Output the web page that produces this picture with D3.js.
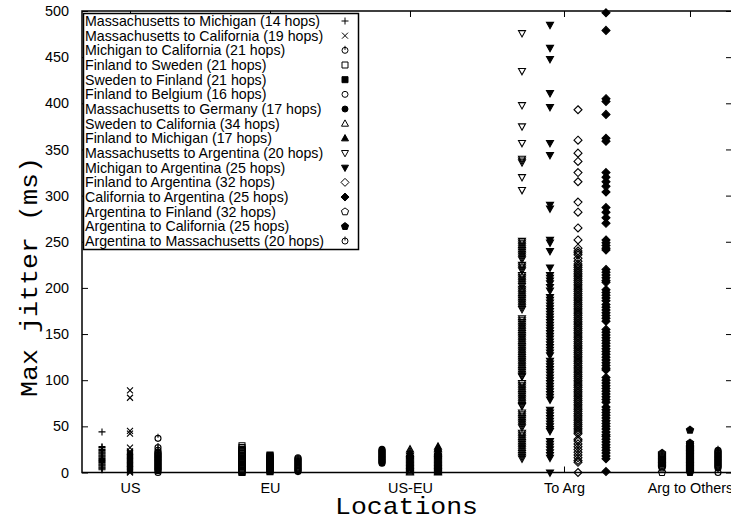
<!DOCTYPE html>
<html><head><meta charset="utf-8">
<script src="https://cdn.jsdelivr.net/npm/d3@7"></script>
<style>body{margin:0;background:#fff}svg{display:block}</style>
</head><body><svg id="c" width="731" height="523"></svg>
<script>
const seriesNames = [
  "Massachusetts to Michigan (14 hops)",
  "Massachusetts to California (19 hops)",
  "Michigan to California (21 hops)",
  "Finland to Sweden (21 hops)",
  "Sweden to Finland (21 hops)",
  "Finland to Belgium (16 hops)",
  "Massachusetts to Germany (17 hops)",
  "Sweden to California (34 hops)",
  "Finland to Michigan (17 hops)",
  "Massachusetts to Argentina (20 hops)",
  "Michigan to Argentina (25 hops)",
  "Finland to Argentina (32 hops)",
  "California to Argentina (25 hops)",
  "Argentina to Finland (32 hops)",
  "Argentina to California (25 hops)",
  "Argentina to Massachusetts (20 hops)"
];
const seriesSlots = [1,2,3,6,7,8,11,12,13,16,17,18,19,21,22,23];
const seriesMarkers = ["plus","cross","circleBar","squareOpen","squareFilled","circleOpen","circleFilled","triOpen","triFilled","invTriOpen","invTriFilled","diamondOpen","diamondFilled","pentOpen","pentFilled","circleBar"];
const categoryLabels = ["US","EU","US-EU","To Arg","Arg to Others"];
const categorySlots = [2,7,12,17.5,22];
const yTicks = [0,50,100,150,200,250,300,350,400,450,500];

const massMich = [44,28,27,25,24,23,22,21,20,19,18,17,16,15,14,13,12,11,10,9,8,7,6,5,4,3];
const massCal = [89,81,45,42,27,23,22,21,20,19,18,17,16,15,14,13,12,11,10,9,8,7,6,5,4,3,2,1,0];
const michCal = [37,27,24,22,21,20,19,18,17,16,15,14,13,12,11,10,9,8,7,6,5,4,3,2,0];
const finSwe = [29,27,25,24,23,22,21,20,19,18,17,16,15,14,13,12,11,10,9,8,7,6,5,4,3,2,1,0];
const sweFin = [19,18,17,16,15,14,13,12,11,10,9,8,7,6,5,4,3,2,1];
const finBel = [16,15,14,13,12,11,10,9,8,7,6,5,4,3,2,1];
const massGer = [25,24,23,22,21,20,19,18,17,16,15,14,13,12,11,10];
const sweCal = [25,23,21,20,19,18,17,16,15,14,13,12,11,10,9,8,7,6,5,4,3,2,1,0];
const finMich = [28,26,25,23,22,21,20,19,18,17,16,15,14,13,12,11,10,9,8,7,6,5,4,3,2,1,0];
const massArg = [476,435,398,375,357,340,338,336,320,306,251,249,247,245,243,241,239,237,235,233,231,225,223,221,219,214,212,210,208,206,204,202,199,197,195,193,191,189,187,185,183,181,179,177,167,165,163,161,159,157,155,153,151,149,147,145,143,141,139,137,135,133,131,129,127,125,123,121,119,117,115,113,111,109,107,105,104,97,95,93,91,89,87,85,83,81,79,77,75,73,72,65,63,61,59,57,55,53,51,49,43,41,39,37,35,33,31,29,27,25,23,21,19,17,15];
const michArg = [485,460,448,411,396,357,344,290,286,252,249,240,222,214,211,208,205,201,197,190,187,184,181,178,175,172,169,166,163,160,157,154,151,148,145,142,139,136,133,130,127,121,118,115,112,109,106,103,100,97,94,91,88,85,82,79,68,65,62,59,56,53,50,47,45,34,31,28,25,22,19,16,0];
const finArg = [393,360,346,337,325,315,293,282,265,252,243,240,238,236,232,229,226,224,222,220,218,216,214,212,210,208,206,204,202,200,198,196,194,192,190,188,186,184,182,180,178,176,174,172,170,168,166,164,162,160,158,156,154,152,150,148,146,144,142,140,138,136,134,132,130,128,126,124,122,120,118,116,114,112,110,108,106,104,102,100,98,96,94,92,90,88,86,84,82,80,78,76,74,72,70,68,66,64,62,60,58,56,54,52,50,48,46,44,42,36,34,31,28,25,22,19,16,13,11,0];
const calArg = [498,479,405,402,388,362,359,325,320,315,310,304,287,282,276,270,252,249,246,243,241,220,217,214,211,208,206,198,195,192,189,186,182,179,176,173,170,167,164,155,152,149,146,143,140,137,134,131,128,125,122,119,116,113,111,103,100,97,94,91,88,85,82,79,76,71,68,65,62,59,56,53,50,47,44,41,39,36,33,30,27,24,21,18,15,1];
const argFin = [21,20,19,18,17,16,15,14,13,12,11,10,9,8,7,6,5,0];
const argCal = [46,32,30,28,27,26,25,24,23,22,21,20,19,18,17,16,15,14,13,12,11,10,9,8,7,6,5,4,3,2,1,0];
const argMass = [24,23,22,21,20,19,18,17,16,15,14,13,12,11,10,9,8,7,6,5,0];

const seriesValues = [massMich,massCal,michCal,finSwe,sweFin,finBel,massGer,sweCal,finMich,massArg,michArg,finArg,calArg,argFin,argCal,argMass];

const svg = d3.select("#c");
const L = 82, R = 732, T = 11, B = 472.5;
const x = d3.scaleLinear().domain([0.286, 23.5]).range([L, R]);
const y = d3.scaleLinear().domain([0, 500]).range([B, T]);

function pent(){
  const pts = d3.range(5).map(i => { const a = -Math.PI/2 + i*2*Math.PI/5; return [3.8*Math.cos(a), 3.8*Math.sin(a)]; });
  return "M" + pts.map(p => p.join(",")).join("L") + "Z";
}
const shapes = {
  plus: {d:"M-3.5,0H3.5M0,-3.5V3.5", fill:false},
  cross: {d:"M-3,-3L3,3M-3,3L3,-3", fill:false},
  circleBar: {d:"M3,0A3,3 0 1,1 -3,0A3,3 0 1,1 3,0ZM0,-4.5V-0.5", fill:false},
  squareOpen: {d:"M-3,-3H3V3H-3Z", fill:false},
  squareFilled: {d:"M-3,-3H3V3H-3Z", fill:true},
  circleOpen: {d:"M3,0A3,3 0 1,1 -3,0A3,3 0 1,1 3,0Z", fill:false},
  circleFilled: {d:"M3,0A3,3 0 1,1 -3,0A3,3 0 1,1 3,0Z", fill:true},
  triOpen: {d:"M0,-3.8L3.5,2.5H-3.5Z", fill:false},
  triFilled: {d:"M0,-3.8L3.5,2.5H-3.5Z", fill:true},
  invTriOpen: {d:"M0,3.8L3.5,-2.5H-3.5Z", fill:false},
  invTriFilled: {d:"M0,3.8L3.5,-2.5H-3.5Z", fill:true},
  diamondOpen: {d:"M0,-4L4,0L0,4L-4,0Z", fill:false},
  diamondFilled: {d:"M0,-4L4,0L0,4L-4,0Z", fill:true},
  pentOpen: {d:pent(), fill:false},
  pentFilled: {d:pent(), fill:true}
};

const sansFont = "'Liberation Sans', Arial, Helvetica, sans-serif";
const monoFont = "'Liberation Mono', 'Courier New', monospace";

// points
seriesValues.forEach((vals, i) => {
  const sh = shapes[seriesMarkers[i]];
  svg.append("g").selectAll("path").data(vals).join("path")
    .attr("transform", v => `translate(${x(seriesSlots[i])},${y(v)})`)
    .attr("d", sh.d)
    .attr("fill", sh.fill ? "#000" : "none")
    .attr("stroke", "#000").attr("stroke-width", 1.1);
});

// axes
const yAxisL = d3.axisLeft(y).tickValues(yTicks).tickSize(-6).tickPadding(13).tickFormat(d3.format("d"));
const gl = svg.append("g").attr("transform", `translate(${L},0)`).call(yAxisL);
const yAxisR = d3.axisRight(y).tickValues(yTicks).tickSize(-6).tickFormat("");
const gr = svg.append("g").attr("transform", `translate(${R},0)`).call(yAxisR);
const xAxisB = d3.axisBottom(x).tickValues(categorySlots).tickSize(-6).tickPadding(10).tickFormat((d,i) => categoryLabels[i]);
const gb = svg.append("g").attr("transform", `translate(0,${B})`).call(xAxisB);
const xAxisT = d3.axisTop(x).tickValues(categorySlots).tickSize(-6).tickFormat("");
const gt = svg.append("g").attr("transform", `translate(0,${T})`).call(xAxisT);
[gl,gr,gb,gt].forEach(g => {
  g.select(".domain").remove();
  g.selectAll("line").attr("stroke","#000").attr("stroke-width",1);
  g.selectAll("text").attr("font-family", sansFont).attr("font-size", 14.4).attr("fill","#000");
});
gl.selectAll("text").attr("x", -13);

svg.append("rect").attr("x", L).attr("y", T).attr("width", R - L).attr("height", B - T)
  .attr("fill","none").attr("stroke","#000").attr("stroke-width",1.5);

// legend
const lg = svg.append("g");
lg.append("rect").attr("x", 83.5).attr("y", 13.5).attr("width", 275).attr("height", 236)
  .attr("fill","#fff").attr("stroke","#000").attr("stroke-width",1.5);
seriesNames.forEach((name, i) => {
  const cy = 21 + i * 14.67;
  lg.append("text").attr("x", 85).attr("y", cy + 5).text(name)
    .attr("font-family", sansFont).attr("font-size", 14.2).attr("fill","#000");
  const sh = shapes[seriesMarkers[i]];
  lg.append("path").attr("transform", `translate(345,${cy})`).attr("d", sh.d)
    .attr("fill", sh.fill ? "#000" : "none").attr("stroke","#000").attr("stroke-width",1);
});

// titles
svg.append("text").attr("x", (L + 731) / 2).attr("y", 514).attr("text-anchor","middle")
  .attr("font-family", monoFont).attr("font-size", 24).attr("textLength", 143).attr("lengthAdjust","spacingAndGlyphs")
  .attr("fill","#000").text("Locations");
svg.append("text").attr("transform", `translate(37,277) rotate(-90)`).attr("text-anchor","middle")
  .attr("font-family", monoFont).attr("font-size", 24).attr("textLength", 240).attr("lengthAdjust","spacingAndGlyphs")
  .attr("fill","#000").text("Max jitter (ms)");
</script></body></html>
